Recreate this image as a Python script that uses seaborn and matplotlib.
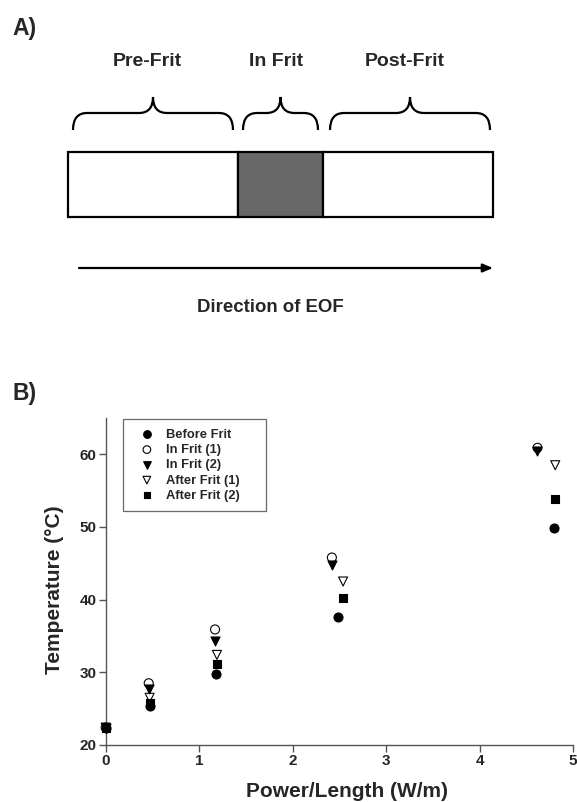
import numpy as np
import pandas as pd
import matplotlib
matplotlib.use("Agg")
import matplotlib.pyplot as plt
from matplotlib.path import Path
from matplotlib.patches import PathPatch, Rectangle
import seaborn as sns

W, H = 577, 802

# ---- panel A: schematic ----
segment_labels = ["Pre-Frit", "In Frit", "Post-Frit"]
segment_edges = [68, 238, 323, 493]          # rectangle boundaries (px)
segment_fill = ["white", "#686868", "white"]
brace_spans = [(73, 233), (243, 318), (330, 490)]
label_x = [147, 276, 405]

# ---- panel B: temperature data ----
series_names = ["Before Frit", "In Frit (1)", "In Frit (2)", "After Frit (1)", "After Frit (2)"]
before_x = [0.0, 0.47, 1.18, 2.49, 4.80]
before_y = [22.3, 25.3, 29.8, 37.6, 49.8]
in1_x = [0.0, 0.46, 1.17, 2.42, 4.62]
in1_y = [22.4, 28.5, 35.9, 45.8, 60.9]
in2_x = [0.0, 0.46, 1.17, 2.42, 4.62]
in2_y = [22.3, 27.7, 34.3, 44.8, 60.4]
after1_x = [0.0, 0.47, 1.19, 2.54, 4.81]
after1_y = [22.4, 26.5, 32.4, 42.5, 58.5]
after2_x = [0.0, 0.47, 1.19, 2.54, 4.81]
after2_y = [22.3, 25.8, 31.1, 40.2, 53.9]

markers = ["o", "o", "v", "v", "s"]
fills = ["black", "none", "black", "none", "black"]
sizes = [42, 42, 42, 42, 30]
zorders = [6, 3, 4, 3, 4]

frames = []
for name, xs, ys in zip(series_names,
                        [before_x, in1_x, in2_x, after1_x, after2_x],
                        [before_y, in1_y, in2_y, after1_y, after2_y]):
    frames.append(pd.DataFrame({"series": name, "power": xs, "temp": ys}))
df = pd.concat(frames, ignore_index=True)

sns.set_style("ticks")
plt.rcParams['font.family'] = ['Liberation Sans', 'DejaVu Sans']
plt.rcParams['font.weight'] = 'bold'

fig = plt.figure(figsize=(W / 100, H / 100), dpi=100)

# schematic axes in pixel coordinates
top_h = 340
axA = fig.add_axes([0, 1 - top_h / H, 1, top_h / H])
axA.set_xlim(0, W)
axA.set_ylim(top_h, 0)
axA.axis("off")

rect_top, rect_bot = 152, 217
for i, fc in enumerate(segment_fill):
    axA.add_patch(Rectangle((segment_edges[i], rect_top),
                            segment_edges[i + 1] - segment_edges[i],
                            rect_bot - rect_top,
                            facecolor=fc, edgecolor="black", lw=1.6))

brace_top, brace_mid, brace_bot, r = 97, 113, 130, 14
for (x0, x1), lx, lab in zip(brace_spans, label_x, segment_labels):
    xc = (x0 + x1) / 2
    verts = [(x0, brace_bot), (x0, brace_mid), (x0 + r, brace_mid),
             (xc - r, brace_mid), (xc, brace_mid), (xc, brace_top),
             (xc, brace_mid), (xc + r, brace_mid),
             (x1 - r, brace_mid), (x1, brace_mid), (x1, brace_bot)]
    codes = [Path.MOVETO, Path.CURVE3, Path.CURVE3,
             Path.LINETO, Path.CURVE3, Path.CURVE3,
             Path.CURVE3, Path.CURVE3,
             Path.LINETO, Path.CURVE3, Path.CURVE3]
    axA.add_patch(PathPatch(Path(verts, codes), facecolor="none",
                            edgecolor="black", lw=1.6))
    axA.text(lx, 62, lab, ha="center", va="center", fontsize=14, fontweight="bold")

axA.annotate("", xy=(493, 268), xytext=(79, 268),
             arrowprops=dict(arrowstyle="-|>,head_length=0.6,head_width=0.25",
                             color="black", lw=1.6, shrinkA=0, shrinkB=0))
axA.text(270, 307, "Direction of EOF", ha="center", va="center",
         fontsize=13.4, fontweight="bold")

fig.text(12 / W, 1 - 28 / H, "A)", ha="left", va="center", fontsize=16.5, fontweight="bold")
fig.text(12 / W, 1 - 394 / H, "B)", ha="left", va="center", fontsize=16.5, fontweight="bold")

# scatter axes
ax_left, ax_right, ax_top, ax_bot = 105.7, 573, 418, 745
ax = fig.add_axes([ax_left / W, 1 - ax_bot / H, (ax_right - ax_left) / W, (ax_bot - ax_top) / H])

for name, m, fc, sz, zo in zip(series_names, markers, fills, sizes, zorders):
    sub = df[df["series"] == name]
    sns.scatterplot(data=sub, x="power", y="temp", marker=m, facecolor=fc,
                    edgecolor="black", linewidth=0.8, s=sz, label=name,
                    ax=ax, clip_on=False, zorder=zo)

ax.set_xlim(0, 5)
ax.set_ylim(20, 65)
ax.set_xticks([0, 1, 2, 3, 4, 5])
ax.set_yticks([20, 30, 40, 50, 60])
sns.despine(ax=ax)
for s in ["left", "bottom"]:
    ax.spines[s].set_color("#555555")
    ax.spines[s].set_linewidth(1.0)
ax.tick_params(direction="out", length=5, width=1, color="#555555",
               labelsize=11, pad=1.5)
for t in ax.get_xticklabels() + ax.get_yticklabels():
    t.set_fontweight("bold")

ax.set_xlabel("Power/Length (W/m)", fontsize=15, fontweight="bold")
ax.set_ylabel("Temperature (°C)", fontsize=15, fontweight="bold")
ax.xaxis.set_label_coords(0.517, -0.112)
ax.yaxis.set_label_coords(-0.09, 0.474)

leg = ax.legend(loc="upper left", bbox_to_anchor=(0.037, 0.0, 0.306, 0.997),
                mode="expand", borderaxespad=0,
                frameon=True, fancybox=False, edgecolor="#444444",
                prop={"size": 9.3, "weight": "bold"}, labelspacing=0.25,
                handlelength=2.2, handletextpad=0.4, borderpad=0.75,
                markerscale=0.85)
leg.get_frame().set_linewidth(0.9)

fig.savefig("out.png", dpi=100)
